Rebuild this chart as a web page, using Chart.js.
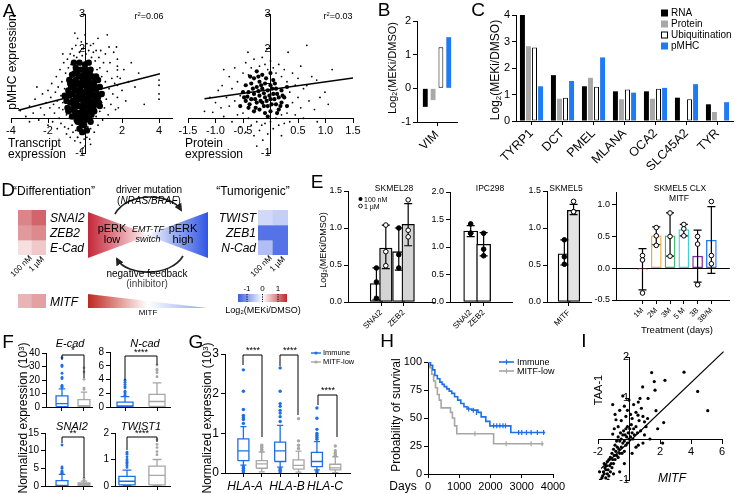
<!DOCTYPE html>
<html><head><meta charset="utf-8">
<script src="https://cdn.jsdelivr.net/npm/chart.js@4.4.1/dist/chart.umd.min.js"></script>
<style>
html,body{margin:0;padding:0;background:#fff;}
#root{position:relative;width:735px;height:494px;overflow:hidden;background:#fff;font-family:"Liberation Sans",Arial,Helvetica,sans-serif;color:#000;}
.tx{position:absolute;white-space:nowrap;line-height:1;}
</style></head><body><div id="root"></div>
<script>
/* ================= DATA ================= */
// Panel A (left): transcript vs pMHC
const scatA1Core=[-1.0,0.5,-0.9,0.8,-0.9,0.2,-0.8,1.0,-0.8,0.45,-0.7,0.05,-0.7,0.7,-0.7,1.25,-0.6,0.35,-0.6,0.9,-0.5,0.1,-0.5,0.6,-0.5,1.1,-0.5,1.45,-0.4,-0.1,-0.4,0.35,-0.4,0.8,-0.4,1.3,-0.3,0.15,-0.3,0.55,-0.3,1.0,-0.3,1.6,-0.2,-0.15,-0.2,0.35,-0.2,0.75,-0.2,1.2,-0.1,0.05,-0.1,0.5,-0.1,0.95,-0.1,1.4,0.0,-0.05,0.0,0.3,0.0,0.7,0.0,1.15,0.0,1.55,0.1,0.15,0.1,0.55,0.1,0.9,0.1,1.3,0.2,0.0,0.2,0.4,0.2,0.8,0.2,1.15,0.3,0.25,0.3,0.65,0.3,1.0,0.3,1.4,0.4,0.45,0.4,0.85,0.4,1.2,0.5,0.2,0.5,0.65,0.5,1.05,0.6,0.4,0.6,0.85,0.7,0.6,0.7,1.1,0.8,0.35,0.8,0.9,-1.1,0.65,-0.6,1.6,0.2,1.6,0.9,0.7,-0.15,-0.4,0.1,-0.35,
 -0.95,0.3,-0.85,0.65,-0.75,0.9,-0.75,0.25,-0.65,0.5,-0.65,1.05,-0.55,0.2,-0.55,0.8,-0.55,1.3,-0.45,0.5,-0.45,1.0,-0.45,-0.05,-0.35,0.7,-0.35,1.2,-0.35,0.35,-0.25,0.0,-0.25,0.9,-0.25,1.4,-0.15,0.2,-0.15,0.6,-0.15,1.05,-0.05,0.75,-0.05,1.25,-0.05,-0.2,0.05,0.45,0.05,0.95,0.05,1.4,0.15,0.0,0.15,0.7,0.15,1.05,0.25,0.55,0.25,0.9,0.25,1.3,0.35,0.1,0.35,0.8,0.45,0.3,0.45,1.0,0.55,0.5,0.55,0.9,0.65,0.7,0.75,0.45,-0.85,1.1,0.6,1.2,-0.3,-0.3,0.3,-0.1];
const scatA1=[-3.5,0.22,-3.2,0.05,-3.0,0.35,-2.8,0.15,-2.7,0.55,-2.5,-0.05,-2.4,0.3,-2.3,0.7,-2.2,0.1,-2.1,0.45,-2.0,-0.2,-2.0,0.8,-1.9,0.3,-1.85,0.6,-1.8,1.0,-1.75,-0.1,-1.7,0.4,-1.65,0.15,-1.6,0.75,-1.55,1.2,-1.5,-0.3,-1.5,0.5,-1.45,0.9,-1.4,0.0,-1.4,0.3,-1.35,1.4,-1.3,0.65,-1.3,-0.15,-1.25,1.05,-1.2,0.25,-1.2,0.45,-1.15,1.6,-1.1,-0.25,-1.1,0.85,-1.05,1.3,-1.0,-0.45,-1.0,0.1,-0.95,1.7,-0.9,-0.3,-0.9,1.45,-0.85,0.0,-0.8,1.85,-0.8,-0.55,-0.75,1.55,-0.7,-0.2,-0.7,2.0,-0.65,-0.4,-0.6,1.8,-0.55,-0.65,-0.5,2.1,-0.5,-0.35,-0.45,1.75,-0.4,-0.55,-0.4,2.3,-0.35,-0.3,-0.3,1.9,-0.25,-0.7,-0.2,2.2,-0.2,-0.45,-0.15,1.8,-0.1,-0.85,-0.1,2.0,-0.05,-0.6,0.0,2.4,0.0,-0.35,0.05,1.85,0.1,-0.55,0.1,2.15,0.15,-0.25,0.2,1.95,0.25,-0.6,0.3,2.1,0.3,-0.3,0.35,1.75,0.4,-0.1,0.45,2.15,0.45,1.9,0.5,-0.4,0.55,1.65,0.6,0.05,0.6,1.95,0.65,1.4,0.7,-0.2,0.75,1.75,0.8,0.2,0.8,1.45,0.85,1.95,0.9,0.45,0.9,1.2,0.95,-0.05,1.0,0.75,1.0,1.6,1.05,0.3,1.1,1.05,1.1,1.85,1.15,0.55,1.2,1.35,1.2,2.4,1.25,0.1,1.3,0.85,1.35,1.6,1.4,0.4,1.45,1.15,1.5,0.7,1.55,1.9,1.6,1.0,1.65,0.25,1.7,2.05,1.75,1.7,1.75,1.5,1.75,1.39,1.75,1.2,1.75,0.95,1.75,0.6,1.8,0.3,1.9,1.15,2.0,0.8,2.1,1.4,2.2,0.5,2.35,1.05,2.5,1.6,2.7,0.9,4.0,1.1,4.0,0.95,4.0,0.7,4.0,0.55,-0.4,-0.55,0.0,-0.8,-0.25,-0.95,0.3,-0.75,1.3,2.05,-0.55,2.45,0.7,2.3,-1.2,1.85,-2.6,0.9,-3.0,-0.1,2.9,1.3,3.2,0.4];
const fitA1X=[-3.6,4.05], fitA1Y=[0.23,1.28];
// Panel A (right): protein vs pMHC
const scatA2Core=[-0.45,0.5,-0.4,0.3,-0.4,0.75,-0.35,0.55,-0.35,1.0,-0.3,0.2,-0.3,0.7,-0.3,1.15,-0.25,0.45,-0.25,0.9,-0.2,0.25,-0.2,0.65,-0.2,1.05,-0.15,0.45,-0.15,0.85,-0.15,1.25,-0.1,0.15,-0.1,0.6,-0.1,1.0,-0.05,0.35,-0.05,0.8,0.0,0.55,0.0,0.95,0.0,0.2,0.05,0.7,0.05,1.1,0.1,0.4,0.1,0.85,0.15,0.6,0.15,0.25,0.2,0.8,0.2,0.45,0.25,0.6,-0.5,0.75,-0.45,0.95,-0.55,0.35,0.3,0.35,0.3,0.9,-0.25,1.35,0.0,1.3,
 -0.42,0.62,-0.38,0.4,-0.32,0.85,-0.28,0.55,-0.27,0.3,-0.22,0.78,-0.18,0.5,-0.17,0.95,-0.12,0.35,-0.12,0.72,-0.08,1.15,-0.07,0.5,-0.02,0.65,0.02,0.4,0.03,0.85,0.07,0.55,0.08,1.0,0.12,0.7,0.18,0.35,0.22,0.65,-0.48,0.6,-0.37,1.2,-0.22,1.2,0.12,0.15,-0.05,0.05];
const scatA2=[-1.2,0.2,-1.05,0.17,-1.0,0.45,-0.95,0.8,-0.9,0.3,-0.88,0.94,-0.85,0.05,-0.8,0.6,-0.75,1.2,-0.75,0.35,-0.7,-0.1,-0.7,0.85,-0.65,0.5,-0.65,1.45,-0.6,0.1,-0.6,1.05,-0.55,-0.25,-0.55,0.65,-0.5,1.3,-0.5,0.15,-0.45,-0.4,-0.45,1.6,-0.41,1.9,-0.4,0.0,-0.4,1.25,-0.35,-0.2,-0.35,1.45,-0.3,-0.5,-0.3,1.7,-0.25,-0.1,-0.2,1.5,-0.2,-0.35,-0.16,-0.2,-0.15,1.75,-0.14,-0.63,-0.1,-0.15,-0.1,1.55,-0.05,-0.45,-0.05,1.4,0.0,-0.1,0.0,1.65,0.05,-0.3,0.05,1.45,0.1,0.0,0.1,1.3,0.15,-0.2,0.15,1.55,0.2,0.1,0.2,1.2,0.25,-0.15,0.25,1.4,0.3,0.15,0.3,1.05,0.32,1.9,0.35,-0.1,0.35,0.75,0.4,0.45,0.4,1.3,0.45,0.1,0.45,0.95,0.5,0.6,0.5,1.15,0.55,0.3,0.6,0.85,0.6,0.0,0.66,0.94,0.66,2.1,0.7,0.5,0.75,1.2,0.8,0.25,0.84,1.1,0.9,0.6,0.99,0.75,1.05,0.4,1.12,1.4,0.55,1.5,-0.85,1.4,-1.1,0.6,0.85,-0.1,-0.25,-0.8,0.2,-0.5];
const fitA2X=[-1.2,1.5], fitA2Y=[0.56,1.16];
// Panel B
const seriesNames=['RNA','Protein','Ubiquitination','pMHC'];
const bCats=['VIM'];
const bRNA=[-0.55], bProt=[-0.35], bUbi=[1.22], bPMHC=[1.52];
// Panel C
const cCats=['TYRP1','DCT','PMEL','MLANA','OCA2','SLC45A2','TYR'];
const cRNA=[4.04,1.73,1.31,1.12,1.12,0.88,0.63];
const cProt=[2.82,0.84,1.63,0.82,0.84,null,0.34];
const cUbi=[2.77,0.88,1.29,1.19,1.22,0.82,null];
const cPMHC=[1.31,1.51,2.4,1.07,1.25,1.39,0.71];
// Panel D heatmaps (log2 MEKi/DMSO)
const heatCols=['100 nM','1 µM'];
const heatLGenes=['SNAI2','ZEB2','E-Cad'], heatLVals=[[0.85,1.07],[0.71,0.81],[0.22,0.38]];
const heatMGenes=['MITF'], heatMVals=[[0.52,0.65]];
const heatRGenes=['TWIST','ZEB1','N-Cad'], heatRVals=[[-0.35,-0.45],[-1.3,-1.3],[-0.6,-1.3]];
const cbarTicks=[-1,0,1];
// Panel E
const e1Cats=['SNAI2','ZEB2'];
const e1LowMean=[0.25,0.68], e1LowReps=[[0.46,0.27,0.05],[1.0,0.64,0.46]], e1LowErr=[[0.03,0.46],[0.43,1.0]];
const e1HighMean=[0.73,1.05], e1HighReps=[[1.04,0.68,0.49],[1.38,0.97,0.88]], e1HighErr=[[0.45,1.04],[0.76,1.33]];
const e2Cats=['SNAI2','ZEB2'];
const e2Mean=[1.29,1.05], e2Reps=[[1.42,1.25,1.25],[1.25,0.96,0.84]], e2Err=[[1.19,1.39],[0.84,1.26]];
const e3Cats=['MITF'];
const e3LowMean=[0.65], e3LowReps=[[0.84,0.61,0.51]], e3LowErr=[[0.5,0.84]];
const e3HighMean=[1.24], e3HighReps=[[1.36,1.22,1.22]], e3HighErr=[[1.18,1.32]];
const e4Cats=['1M','2M','3M','5 M','3B','3B/M'];
const e4Mean=[-0.02,0.51,0.51,0.61,0.19,0.44];
const e4Reps=[[0.2,0.13,-0.39],[0.64,0.51,0.36],[0.87,0.5,0.19],[0.69,0.62,0.51],[0.5,0.38,-0.26],[1.05,0.2,0.07]];
const e4Err=[[-0.34,0.31],[0.37,0.65],[0.19,0.87],[0.51,0.69],[-0.22,0.6],[-0.08,0.97]];
// Panel F  box stats [low whisker, q1, median, q3, high whisker] + outliers
const fEcadImm=[0,0.3,2.5,8.2,13.5], fEcadImmOut=[14.5,15,15.5,16,21,22,25,30,31,36.5];
const fEcadLow=[0,0,1,5.5,11], fEcadLowOut=[13,14,20.5,26,29];
const fNcadImm=[0,0,0.15,0.7,1.5], fNcadImmOut=[1.7,1.9,2.1,2.3,2.8,3.0,3.3,3.6,3.9];
const fNcadLow=[0,0.1,0.8,1.85,3.5], fNcadLowOut=[4.4,5.0,5.3,5.5,6.1];
const fSnaiImm=[0,0,0.2,1.5,3.3], fSnaiImmOut=[3.5,3.6,3.8,4.0,4.3,5.0,5.4,11.6];
const fSnaiLow=[0,0.1,0.5,0.9,1.4], fSnaiLowOut=[1.6,2.1];
const fTwiImm=[0,0.04,0.18,0.36,0.6], fTwiImmOut=[0.7,0.78,0.85,0.9,0.95,1.0,1.1,1.2,1.25,1.28];
const fTwiLow=[0,0.04,0.4,0.75,1.0], fTwiLowOut=[1.18,1.3,1.45,1.57,1.75];
// Panel G
const gCats=['HLA-A','HLA-B','HLA-C'];
const gImm=[[0.2,0.31,0.56,0.86,1.17],[0.15,0.29,0.56,0.78,1.2],[0.08,0.16,0.29,0.52,0.79]];
const gImmOut=[[0.03,0.07,0.12,0.16,1.25,1.35,1.4,1.45,1.6,2.06,2.6],[0.03,0.07,0.11,1.3,1.42,1.51,1.58,1.68,1.75,2.06,2.65],[0.02,0.05,0.85,0.9,0.95,1.0,1.1,1.38,1.64]];
const gLow=[[0.03,0.12,0.23,0.31,0.53],[0.02,0.1,0.19,0.33,0.55],[0.01,0.08,0.13,0.22,0.41]];
const gLowOut=[[0.56,0.6,0.65,0.7],[0.62,0.7,0.81,1.37],[0.45,0.5,0.56,0.68]];
// Panel H Kaplan-Meier
const hImmT=[0,80,150,220,300,380,450,520,600,680,760,850,950,1050,1150,1250,1400,1600,1700,1850,1980,2650,3750];
const hImmS=[100,97,93,88,85,82,80,78,76,74,72,69,66,63,60,58,57,55,51,47,43,37,37];
const hLowT=[0,60,120,180,240,300,360,420,720,780,850,920,2100,3700];
const hLowS=[100,95,89,83,77,71,66,59,55,50,43,36,27,27];
const hImmCensT=[1300,1450,1550,2100,2200,2300,2400,2480,2900,3000,3150,3300,3500,3700];
const hImmCensS=[58,57,55,43,43,43,43,43,37,37,37,37,37,37];
const hLowCensT=[1500,2500,3300,3650];
const hLowCensS=[36,27,27,27];
// Panel I
const scatI=[-1.75,-0.95,-1.7,-0.9,-1.65,-0.8,-1.6,-0.85,-1.55,-0.7,-1.5,-0.95,-1.5,-0.75,-1.45,-0.65,-1.4,-0.85,-1.4,-0.55,-1.35,-0.75,-1.3,-0.9,-1.3,-0.5,-1.25,-0.65,-1.2,-0.8,-1.2,-0.45,-1.15,-0.6,-1.1,-0.35,-1.1,-0.7,-1.05,-0.5,-1.0,-0.25,-1.0,-0.6,-0.95,-0.4,-0.9,-0.15,-0.9,-0.5,-0.85,-0.3,-0.8,-0.05,-0.8,-0.4,-0.75,-0.2,-0.7,-0.45,-0.7,0.05,-0.65,-0.25,-0.6,-0.05,-0.6,-0.35,-0.55,0.15,-0.5,-0.2,-0.5,0.0,-0.45,-0.35,-0.4,0.1,-0.4,-0.1,-0.35,0.2,-0.3,-0.05,-0.3,-0.3,-0.25,0.1,-0.2,-0.15,-0.2,0.25,-0.15,0.05,-0.1,0.3,-0.1,-0.1,-0.05,0.15,0.0,0.0,0.05,0.25,0.1,0.05,0.15,0.35,0.2,0.15,0.25,0.0,0.3,0.25,0.35,0.1,0.45,0.3,0.55,0.15,0.65,0.45,0.75,0.2,0.9,-0.1,-1.9,-0.8,-1.85,-1.0,-1.6,-0.6,-1.35,-1.0,-1.0,-0.85,-0.6,-0.8,-0.3,-0.6,0.2,-0.35,0.45,-0.2,0.6,-0.15,-1.05,0.84,-0.84,0.47,-1.05,0.12,-0.9,0.6,-0.6,0.7,-0.5,0.45,-0.3,0.8,-0.2,0.55,-0.7,0.3,-0.95,0.25,-0.4,1.05,-0.1,0.7,0.1,0.6,0.0,0.95,1.46,1.62,3.55,1.63,2.32,1.43,1.63,1.4,0.88,1.27,1.68,1.19,4.43,1.16,0.71,0.99,1.23,0.99,0.3,0.84,5.08,0.69,1.74,0.69,0.58,0.58,1.2,0.5,1.0,0.42,2.24,0.4,1.85,0.25,1.35,0.0,2.17,-0.1,0.8,0.75,1.1,0.3,0.45,0.65,0.6,0.9,0.2,0.5,0.9,0.55,1.0,0.1];
const fitIX=[-1.8,6.1], fitIY=[-0.72,2.13];

/* ================= STYLE ================= */
const FONT='"Liberation Sans", Arial, Helvetica, sans-serif';
Chart.defaults.font.family=FONT;
Chart.defaults.color='#000';
const BLUE='#1f7bf2', IMM='#1c6fe8', LOWC='#a6a6a6', PGRAY='#a8a8a8';
const seriesFill=['#000',PGRAY,'#fff',BLUE];
const e4Colors=['#e0463c','#f7a83a','#36b86a','#3fd2d2','#7d2c9e','#1f78ee'];

/* ================= HELPERS ================= */
const root=document.getElementById('root');
const pairs=a=>{const r=[];for(let i=0;i<a.length;i+=2)r.push({x:a[i],y:a[i+1]});return r;};
const xy=(X,Y)=>X.map((x,i)=>({x,y:Y[i]}));
function canvasAt(x,y,w,h){const c=document.createElement('canvas');c.width=w;c.height=h;c.style.cssText=`position:absolute;left:${x}px;top:${y}px;width:${w}px;height:${h}px`;root.appendChild(c);return c;}
function ax(o){o=o||{};const base={grid:{display:true,drawOnChartArea:false,drawTicks:true,tickLength:4,color:'#000',offset:false},border:{display:true,color:'#000',width:1},ticks:{color:'#000',padding:2,autoSkip:false}};for(const k of ['grid','border','ticks'])o[k]=Object.assign({},base[k],o[k]||{});return o;}
function mk(box,area,cfg){
  const [bx,by,bw,bh]=box,[l,t,r,b]=area;
  const cv=canvasAt(bx,by,bw,bh);
  const o=cfg.options=cfg.options||{};
  o.responsive=false;o.animation=false;o.devicePixelRatio=1;
  o.plugins=Object.assign({legend:{display:false},tooltip:{enabled:false}},o.plugins||{});
  let pl=l-bx,pb=by+bh-b;const pt=t-by,pr=bx+bw-r;
  const sc=o.scales||{};
  for(const k in sc){const s=sc[k];
    if(s.position==='left'){const w=pl;s.afterFit=z=>{z.width=w;};pl=0;}
    else if(s.position==='bottom'){const h=pb;s.afterFit=z=>{z.height=h;};pb=0;}
  }
  o.layout={padding:{left:pl,top:pt,right:pr,bottom:pb}};
  return new Chart(cv,cfg);
}
function T(html,x,y,o={}){
  const d=document.createElement('div');d.className='tx';d.innerHTML=html;
  d.style.left=x+'px';d.style.top=y+'px';d.style.fontSize=(o.s||11)+'px';
  if(o.i)d.style.fontStyle='italic';if(o.c)d.style.color=o.c;if(o.w)d.style.fontWeight=o.w;
  d.style.transformOrigin='0 0';
  const a=o.a||'c';
  const tr=a==='c'?'translate(-50%,-50%)':a==='l'?'translate(0,-50%)':'translate(-100%,-50%)';
  d.style.transform=(o.r?`rotate(${o.r}deg) `:'')+tr;
  root.appendChild(d);return d;
}
const fmt1=v=>Math.abs(v)<1e-9?'':(+v).toFixed(1);
const flat={maxRotation:0,minRotation:0};

/* ================= PANEL A ================= */
function scatterA(box,area,core,pts,fx,fy,xmin,xmax,xstep,xfmt,coreR){
  return mk(box,area,{type:'scatter',data:{datasets:[
    {type:'line',data:xy(fx,fy),borderColor:'#000',borderWidth:1.4,pointRadius:0,order:0},
    {data:pairs(core),pointRadius:coreR,pointBackgroundColor:'#000',pointBorderWidth:0,order:1},
    {data:pairs(pts),pointRadius:0.9,pointBackgroundColor:'#000',pointBorderWidth:0,order:2}
  ]},options:{scales:{
    x:ax({type:'linear',position:{y:0},min:xmin,max:xmax,ticks:Object.assign({stepSize:xstep,includeBounds:false,callback:xfmt,font:{size:11}},flat)}),
    y:ax({type:'linear',position:{x:0},min:-1,max:3,ticks:{stepSize:1,includeBounds:false,callback:v=>(v===3||v===2||v===-1)?String(v):'',font:{size:11}}})
  }}});
}
scatterA([0,0,185,175],[11,14,172,153],scatA1Core,scatA1,fitA1X,fitA1Y,-4,4.7,2,v=>v===0?'':String(v),3.2);
scatterA([176,0,192,175],[188,14,353,153],scatA2Core,scatA2,fitA2X,fitA2Y,-1.5,1.5,0.5,fmt1,2.1);

/* ================= PANEL B ================= */
const bSeries=[bRNA,bProt,bUbi,bPMHC];
mk([380,5,90,145],[417,21,457,122],{type:'bar',data:{labels:bCats,datasets:bSeries.map((d,i)=>({label:seriesNames[i],data:d,backgroundColor:seriesFill[i],borderColor:'#000',borderWidth:i===2?1:0,borderSkipped:false}))},
 options:{datasets:{bar:{categoryPercentage:0.78,barPercentage:0.62}},scales:{
  x:ax({position:'bottom',ticks:{maxRotation:45,minRotation:45,font:{size:12}}}),
  y:ax({position:'left',min:-1,max:2,ticks:{stepSize:1,font:{size:11}}})}}});

/* ================= PANEL C ================= */
const cSeries=[cRNA,cProt,cUbi,cPMHC];
mk([470,3,265,180],[516,15,733,121],{type:'bar',data:{labels:cCats,datasets:cSeries.map((d,i)=>({label:seriesNames[i],data:d,backgroundColor:seriesFill[i],borderColor:'#000',borderWidth:i===2?1:0,borderSkipped:false}))},
 options:{datasets:{bar:{categoryPercentage:0.78,barPercentage:0.82}},scales:{
  x:ax({position:'bottom',ticks:{maxRotation:45,minRotation:45,font:{size:12.5},padding:1}}),
  y:ax({position:'left',min:0,max:4,ticks:{stepSize:1,font:{size:11}}})}}});

/* ================= PANEL D (heatmaps) ================= */
function heatColor(v){const t=Math.min(1,Math.abs(v)/1.5);const c=v>=0?[192,39,45]:[59,93,227];return `rgb(${Math.round(255+(c[0]-255)*t)},${Math.round(255+(c[1]-255)*t)},${Math.round(255+(c[2]-255)*t)})`;}
function heat(area,genes,vals){
  const [l,t,r,b]=area;const cv=canvasAt(l,t,r-l,b-t);
  return new Chart(cv,{type:'bar',data:{labels:heatCols,datasets:genes.map((g,i)=>({label:g,data:vals[i].map(()=>[i,i+1]),backgroundColor:vals[i].map(heatColor),borderWidth:0,grouped:false,barPercentage:1,categoryPercentage:1}))},
   options:{responsive:false,animation:false,devicePixelRatio:1,plugins:{legend:{display:false},tooltip:{enabled:false}},layout:{padding:0},scales:{x:{display:false},y:{display:false,min:0,max:genes.length,reverse:true}}}});
}
heat([18,210,46,255],heatLGenes,heatLVals);
heat([18,294,46,308],heatMGenes,heatMVals);
heat([258,210,288,255],heatRGenes,heatRVals);

/* ================= PANEL E ================= */
function ePanel(box,area,xr,yr,ystep,cats,groups,bw,fsx,zeroLine){
  const bars=[],bg=[],bc=[],ds=[];
  groups.forEach(g=>{cats.forEach((c,i)=>{const x=i+1+g.off;
    bars.push({x,y:g.mean[i]});bg.push(g.fill);bc.push(g.border?g.border[i]:'#000');
    ds.push({type:'line',data:[{x,y:g.err[i][0]},{x,y:g.err[i][1]}],borderColor:'#000',borderWidth:1.2,pointStyle:'line',pointRadius:4,pointBorderWidth:1.2,pointBorderColor:'#000',order:2});
    ds.push({type:'scatter',data:g.reps[i].map(v=>({x,y:v})),pointRadius:2.3,pointBackgroundColor:g.pt,pointBorderColor:'#000',pointBorderWidth:1,order:1});
  });});
  ds.push({type:'bar',data:bars,backgroundColor:bg,borderColor:bc,borderWidth:1.3,borderSkipped:false,barThickness:bw,order:3});
  const ticksPos=cats.map((c,i)=>i+1);
  const y=ax({type:'linear',position:'left',min:yr[0],max:yr[1],ticks:{stepSize:ystep,includeBounds:false,callback:v=>(+v).toFixed(1),font:{size:9}}});
  if(zeroLine){y.grid.drawOnChartArea=true;y.grid.color=c=>(c.tick&&Math.abs(c.tick.value)<1e-9)?'#000':'rgba(0,0,0,0)';y.grid.tickColor='#000';}
  return mk(box,area,{type:'scatter',data:{datasets:ds},options:{scales:{
    x:ax({type:'linear',position:'bottom',min:xr[0],max:xr[1],afterBuildTicks:s=>{s.ticks=ticksPos.map(v=>({value:v}));},ticks:{maxRotation:45,minRotation:45,font:{size:fsx},callback:(v,i)=>cats[i]}}),
    y}}});
}
ePanel([322,182,118,160],[348,191,435,302],[0.49,2.43],[0,1.5],0.5,e1Cats,[
  {off:-0.21,mean:e1LowMean,reps:e1LowReps,err:e1LowErr,fill:'#fff',pt:'#000'},
  {off:0.21,mean:e1HighMean,reps:e1HighReps,err:e1HighErr,fill:'#d4d4d4',pt:'#fff'}],12.5,8);
ePanel([425,182,93,160],[450,192,513,302],[0.615,3.04],[0,2],0.5,e2Cats,[
  {off:0,mean:e2Mean,reps:e2Reps,err:e2Err,fill:'#fff',pt:'#000'}],14,8);
ePanel([522,182,75,160],[547,191,593,302],[0.51,1.53],[0,1.5],0.5,e3Cats,[
  {off:-0.21,mean:e3LowMean,reps:e3LowReps,err:e3LowErr,fill:'#fff',pt:'#000'},
  {off:0.21,mean:e3HighMean,reps:e3HighReps,err:e3HighErr,fill:'#e3e3e3',pt:'#fff'}],12.5,8);
ePanel([590,182,145,160],[616,192,733,300],[-0.235,6.65],[-0.5,1.2],0.5,e4Cats,[
  {off:0,mean:e4Mean,reps:e4Reps,err:e4Err,fill:'#fff',border:e4Colors,pt:'#fff'}],10,7.5,true);

/* ================= PANEL F / G (box plots) ================= */
function boxDs(pos,s,hw,color){
  const [lo,q1,md,q3,hi]=s,cw=hw*0.55,N={x:pos,y:null};
  return {type:'line',data:[{x:pos-hw,y:q1},{x:pos+hw,y:q1},{x:pos+hw,y:q3},{x:pos-hw,y:q3},{x:pos-hw,y:q1},N,
    {x:pos-hw,y:md},{x:pos+hw,y:md},N,{x:pos,y:q3},{x:pos,y:hi},N,{x:pos-cw,y:hi},{x:pos+cw,y:hi},N,
    {x:pos,y:q1},{x:pos,y:lo},N,{x:pos-cw,y:lo},{x:pos+cw,y:lo}],
    borderColor:color,borderWidth:1.3,pointRadius:0,spanGaps:false,tension:0,order:2};
}
function boxPanel(box,area,xr,yr,ystep,fs,groups,pr){
  const ds=[];
  groups.forEach(g=>{ds.push(boxDs(g.pos,g.stats,g.hw,g.color));
    ds.push({type:'scatter',data:g.out.map(v=>({x:g.pos,y:v})),pointRadius:pr,pointBackgroundColor:g.color,pointBorderWidth:0,order:1});});
  return mk(box,area,{type:'scatter',data:{datasets:ds},options:{scales:{
    x:ax({type:'linear',position:'bottom',min:xr[0],max:xr[1],afterBuildTicks:s=>{s.ticks=groups.map(g=>({value:g.pos}));},ticks:{display:false}}),
    y:ax({type:'linear',position:'left',min:yr[0],max:yr[1],ticks:{stepSize:ystep,font:{size:fs}}})}}});
}
boxPanel([18,343,82,72],[46,353,92,408],[0.273,2.364],[0,40],10,10,[
  {pos:1,stats:fEcadImm,out:fEcadImmOut,color:IMM,hw:0.27},{pos:2,stats:fEcadLow,out:fEcadLowOut,color:LOWC,hw:0.27}],1.4);
boxPanel([88,343,87,72],[110,352,170,408],[0.531,2.406],[0,8],2,10,[
  {pos:1,stats:fNcadImm,out:fNcadImmOut,color:IMM,hw:0.25},{pos:2,stats:fNcadLow,out:fNcadLowOut,color:LOWC,hw:0.25}],1.4);
boxPanel([18,423,82,71],[45,433,92,488],[0.227,2.364],[0,15],5,10,[
  {pos:1,stats:fSnaiImm,out:fSnaiImmOut,color:IMM,hw:0.27},{pos:2,stats:fSnaiLow,out:fSnaiLowOut,color:LOWC,hw:0.27}],1.4);
boxPanel([93,423,82,71],[115,433,170,488],[0.6,2.433],[0,2],1,10,[
  {pos:1,stats:fTwiImm,out:fTwiImmOut,color:IMM,hw:0.27},{pos:2,stats:fTwiLow,out:fTwiLowOut,color:LOWC,hw:0.27}],1.4);
const gGroups=[];
gCats.forEach((c,i)=>{gGroups.push({pos:0.5+i,stats:gImm[i],out:gImmOut[i],color:IMM,hw:0.15});gGroups.push({pos:1.0+i,stats:gLow[i],out:gLowOut[i],color:LOWC,hw:0.15});});
boxPanel([200,344,160,150],[225,354,350,473],[0,3.4],[0,3],1,12,gGroups,1.7);

/* ================= PANEL H ================= */
mk([398,352,172,142],[428,362,553,474],{type:'scatter',data:{datasets:[
  {type:'line',data:xy(hImmT,hImmS),stepped:true,borderColor:IMM,borderWidth:1.6,pointRadius:0,order:2},
  {type:'line',data:xy(hLowT,hLowS),stepped:true,borderColor:LOWC,borderWidth:1.6,pointRadius:0,order:3},
  {data:xy(hImmCensT,hImmCensS),pointStyle:'line',rotation:90,pointRadius:2.5,pointBorderColor:IMM,pointBorderWidth:1.2,order:1},
  {data:xy(hLowCensT,hLowCensS),pointStyle:'line',rotation:90,pointRadius:2.5,pointBorderColor:LOWC,pointBorderWidth:1.2,order:1}
]},options:{scales:{
  x:ax({type:'linear',position:'bottom',min:0,max:4000,ticks:Object.assign({stepSize:1000,font:{size:11},callback:v=>String(v)},flat)}),
  y:ax({type:'linear',position:'left',min:0,max:100,ticks:{stepSize:25,font:{size:11}}})}}});

/* ================= PANEL I ================= */
mk([585,345,150,149],[598,357,722,480],{type:'scatter',data:{datasets:[
  {type:'line',data:xy(fitIX,fitIY),borderColor:'#000',borderWidth:1.2,pointRadius:0,clip:false,order:0},
  {data:pairs(scatI),pointRadius:1.6,pointBackgroundColor:'#000',pointBorderWidth:0,order:1}
]},options:{scales:{
  x:ax({type:'linear',position:{y:0},min:-2,max:6,ticks:Object.assign({stepSize:2,includeBounds:false,callback:v=>v===0?'':String(v),font:{size:11}},flat)}),
  y:ax({type:'linear',position:{x:0},min:-1,max:2,ticks:{stepSize:1,includeBounds:false,callback:v=>v===0?'':String(v),font:{size:11}}})}}});

/* ================= SVG annotations ================= */
const svgNS='http://www.w3.org/2000/svg';
const svg=document.createElementNS(svgNS,'svg');
svg.setAttribute('width','735');svg.setAttribute('height','494');
svg.style.cssText='position:absolute;left:0;top:0';
const br=(pts)=>`<polyline points="${pts}" fill="none" stroke="#000" stroke-width="1"/>`;
svg.innerHTML=`<defs>
<linearGradient id="gl" gradientUnits="userSpaceOnUse" x1="88" y1="0" x2="150" y2="0"><stop offset="0" stop-color="#c4283a"/><stop offset="0.5" stop-color="#e38f98"/><stop offset="1" stop-color="#ffffff"/></linearGradient>
<linearGradient id="gr" gradientUnits="userSpaceOnUse" x1="208" y1="0" x2="146" y2="0"><stop offset="0" stop-color="#2f55e6"/><stop offset="0.5" stop-color="#95a8f0"/><stop offset="1" stop-color="#ffffff"/></linearGradient>
<linearGradient id="gw" gradientUnits="userSpaceOnUse" x1="88" y1="0" x2="207" y2="0"><stop offset="0" stop-color="#c0281e"/><stop offset="0.5" stop-color="#ffffff"/><stop offset="1" stop-color="#8aa1ee"/></linearGradient>
<linearGradient id="gc" gradientUnits="userSpaceOnUse" x1="238" y1="0" x2="287" y2="0"><stop offset="0" stop-color="#3b5de3"/><stop offset="0.5" stop-color="#ffffff"/><stop offset="1" stop-color="#c1272d"/></linearGradient>
<marker id="ah" markerUnits="userSpaceOnUse" markerWidth="8" markerHeight="8" refX="6" refY="4" orient="auto"><path d="M0,0 L8,4 L0,8 z" fill="#222"/></marker>
</defs>
<polygon points="88,212 150,235 88,258" fill="url(#gl)"/>
<polygon points="208,212 146,235 208,258" fill="url(#gr)"/>
<path d="M115,214 C127,192 170,192 181,210" fill="none" stroke="#222" stroke-width="1.6" marker-end="url(#ah)"/>
<path d="M183,256 C171,277 127,277 117,259" fill="none" stroke="#222" stroke-width="1.6" marker-end="url(#ah)"/>
<polygon points="88,294 207,308 88,308" fill="url(#gw)"/>
<rect x="238" y="294" width="49" height="8" fill="url(#gc)"/>
<line x1="247" y1="294" x2="247" y2="302" stroke="#000" stroke-width="1" stroke-dasharray="1.2,1.2"/>
<line x1="262.5" y1="294" x2="262.5" y2="302" stroke="#000" stroke-width="1" stroke-dasharray="1.2,1.2"/>
<line x1="278" y1="294" x2="278" y2="302" stroke="#000" stroke-width="1" stroke-dasharray="1.2,1.2"/>
${br('62,360 62,355 84,355 84,378')}
${br('125,380 125,356 157,356 157,365')}
${br('62,443 62,437 84,437 84,478')}
${br('127,450 127,437 157,437 157,442')}
${br('243,365 243,355 262,355 262,437')}
${br('280,366 280,355 298,355 298,415')}
${br('318,405 318,395 337,395 337,437')}
<line x1="311" y1="353" x2="321" y2="353" stroke="${IMM}" stroke-width="1.4"/><circle cx="316" cy="353" r="1.6" fill="${IMM}"/>
<line x1="311" y1="362" x2="321" y2="362" stroke="${LOWC}" stroke-width="1.4"/><circle cx="316" cy="362" r="1.6" fill="${LOWC}"/>
<line x1="499" y1="362" x2="514" y2="362" stroke="${IMM}" stroke-width="1.6"/><line x1="506.5" y1="359.5" x2="506.5" y2="364.5" stroke="${IMM}" stroke-width="1.2"/>
<line x1="499" y1="371" x2="514" y2="371" stroke="${LOWC}" stroke-width="1.6"/><line x1="506.5" y1="368.5" x2="506.5" y2="373.5" stroke="${LOWC}" stroke-width="1.2"/>
<rect x="661" y="9.5" width="7" height="7" fill="#000"/>
<rect x="661" y="20.5" width="7" height="7" fill="${PGRAY}"/>
<rect x="661.5" y="32" width="6" height="6" fill="#fff" stroke="#000" stroke-width="1"/>
<rect x="661" y="42.5" width="7" height="7" fill="${BLUE}"/>
<circle cx="360.5" cy="199" r="2" fill="#000"/>
<circle cx="360.5" cy="206" r="1.8" fill="#fff" stroke="#000" stroke-width="0.9"/>`;
root.appendChild(svg);

/* ================= TEXT ================= */
const L=19;
[['A',9,10],['B',384,9],['C',478,9],['D',8,189],['E',317,181],['F',8,341],['G',196,341],['H',387,340],['I',584,340]].forEach(a=>T(a[0],a[1],a[2],{s:L}));
const sup=s=>`<sup style="font-size:0.65em;vertical-align:0.45em;line-height:0">${s}</sup>`;
const sub=s=>`<sub style="font-size:0.65em;vertical-align:-0.25em;line-height:0">${s}</sub>`;
// A
T('r'+sup('2')+'=0.06',149,16,{s:9});
T('r'+sup('2')+'=0.03',338,16,{s:9});
T('pMHC expression',12,62,{s:12,r:-90});
T('Transcript',8,143,{s:12,a:'l'});T('expression',8,154,{s:12,a:'l'});
T('Protein',185,143,{s:12,a:'l'});T('expression',185,154,{s:12,a:'l'});
// B,C
T('Log'+sub('2')+'(MEKi/DMSO)',392,68,{s:11,r:-90});
T('Log'+sub('2')+'(MEKi/DMSO)',495,70,{s:12,r:-90});
seriesNames.forEach((n,i)=>T(n,671,13+i*11,{s:10,a:'l'}));
// D
T('“Differentiation”',54,191,{s:12});
T('driver mutation',149,190,{s:10});
T('(<i>NRAS/BRAF</i>)',149,201,{s:10});
T('“Tumorigenic”',253,191,{s:12});
heatLGenes.forEach((g,i)=>T(g,50,218+i*15,{s:12,i:1,a:'l'}));
heatMGenes.forEach((g,i)=>T(g,50,302,{s:12,i:1,a:'l'}));
heatRGenes.forEach((g,i)=>T(g,256,218+i*15,{s:12,i:1,a:'r'}));
T(heatCols[0],31,257,{s:8,a:'r',r:-45});T(heatCols[1],43,258,{s:8,a:'r',r:-45});
T(heatCols[0],271,257,{s:8,a:'r',r:-45});T(heatCols[1],284,258,{s:8,a:'r',r:-45});
T('pERK',112,228,{s:11});T('low',112,239,{s:11});
T('EMT-TF',148,229,{s:9,i:1});T('switch',148,239,{s:9,i:1});
T('pERK',183,228,{s:11});T('high',183,239,{s:11});
T('negative feedback',147,274,{s:10});
T('(inhibitor)',147,284,{s:10,c:'#444'});
T('MITF',148,313,{s:8});
cbarTicks.forEach((v,i)=>T(String(v),[247,262.5,278][i],289,{s:8}));
T('Log'+sub('2')+'(MEKi/DMSO)',263,310,{s:9});
// E
T('SKMEL28',394,188,{s:8.5});T('IPC298',490,188,{s:8.5});T('SKMEL5',566,188,{s:8.5});
T('SKMEL5 CLX',680,188,{s:8.5});T('MITF',679,198,{s:8.5});
T('100 nM',364,199,{s:7,a:'l'});T('1 µM',364,206,{s:7,a:'l'});
T('Log'+sub('2')+'(MEKi/DMSO)',323,250,{s:9,r:-90});
T('Treatment (days)',677,330,{s:9.5});
// F
T('Normalized expression (10'+sup('3')+')',23,418,{s:12,r:-90});
T('E-cad',70,343,{s:11,i:1});T('N-cad',145,343,{s:11,i:1});
T('SNAI2',72,426,{s:11,i:1});T('TWIST1',141,426,{s:11,i:1});
T('*',73,351,{s:10});T('****',141,352,{s:9});T('**',73,433,{s:9});T('****',142,433,{s:9});
// G
T('Normalized expression (10'+sup('3')+')',207,418,{s:12,r:-90});
gCats.forEach((c,i)=>T(c,[245,287,325][i],486,{s:12,i:1}));
T('****',253,350,{s:9});T('****',290,350,{s:9});T('****',328,390,{s:9});
T('Immune',323,353,{s:7.5,a:'l'});T('MITF-low',323,362,{s:7.5,a:'l'});
// H
T('Probability of survival',396,415,{s:12,r:-90});
T('Days',403,486,{s:12});
T('Immune',517,362,{s:9,a:'l'});T('MITF-low',517,371,{s:9,a:'l'});
// I
T('TAA-1',598,390,{s:11,r:-90});
T('MITF',672,478,{s:12,i:1});
</script></body></html>
